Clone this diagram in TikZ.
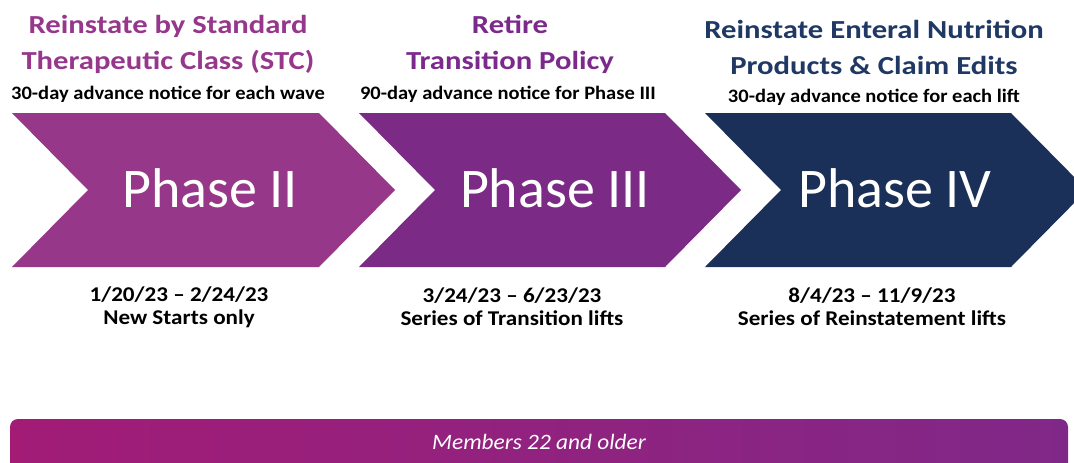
\documentclass[tikz,border=0pt]{standalone}
\usepackage{fontspec}
\setmainfont{Carlito}
\definecolor{cA}{RGB}{150,55,137}
\definecolor{cB}{RGB}{123,42,134}
\definecolor{cC}{RGB}{26,48,89}
\definecolor{hA}{RGB}{150,55,140}
\definecolor{hB}{RGB}{123,42,140}
\definecolor{hC}{RGB}{31,56,100}
\definecolor{barL}{RGB}{162,28,118}
\definecolor{barR}{RGB}{128,40,136}
\tikzset{
  phase/.style={text=white,font=\fontsize{56}{60}\selectfont},
  head/.style={font=\bfseries\fontsize{26}{36}\selectfont,align=center,xscale=1.18},
  sub/.style={font=\bfseries\fontsize{19}{22}\selectfont,text=black,xscale=1.08},
  date/.style={font=\bfseries\fontsize{21}{23}\selectfont,align=center,text=black,xscale=1.1},
}
\begin{document}
\begin{tikzpicture}[x=1pt,y=-1pt]
\clip (0,0) rectangle (1074,463);
\fill[white] (0,0) rectangle (1074,463);
% chevrons
\fill[cA] (12,113) -- (319,113) -- (395,190) -- (319,267) -- (12,267) -- (88,190) -- cycle;
\fill[cB] (359,113) -- (665,113) -- (741,190) -- (665,267) -- (359,267) -- (435,190) -- cycle;
\fill[cC] (705,113) -- (1011,113) -- (1087,190) -- (1011,267) -- (705,267) -- (781,190) -- cycle;
\node[phase] (p2) at (210,188) {Phase II};
\node[phase] (p3) at (555,188) {Phase III};
\node[phase] (p4) at (895,188) {Phase IV};
% headings
\node[head,text=hA] (h1) at (168,44) {Reinstate by Standard\\Therapeutic Class (STC)};
\node[sub] (s1) at (168,94) {30-day advance notice for each wave};
\node[head,text=hB] (h2) at (510,44) {Retire\\Transition Policy};
\node[sub] (s2) at (508,94) {90-day advance notice for Phase III};
\node[head,text=hC] (h3) at (874,47) {Reinstate Enteral Nutrition\\Products \& Claim Edits};
\node[sub] (s3) at (874,97) {30-day advance notice for each lift};
% dates
\node[date] (d1) at (179,307) {1/20/23 -- 2/24/23\\New Starts only};
\node[date] (d2) at (512,307) {3/24/23 -- 6/23/23\\Series of Transition lifts};
\node[date] (d3) at (872,307) {8/4/23 -- 11/9/23\\Series of Reinstatement lifts};
% bottom bar
\shade[left color=barL,right color=barR,rounded corners=8pt] (10,419) rectangle (1068,475);
\node[text=white,font=\itshape\fontsize{22}{24}\selectfont,xscale=1.06] (m) at (539,442) {Members 22 and older};
\end{tikzpicture}
\end{document}
